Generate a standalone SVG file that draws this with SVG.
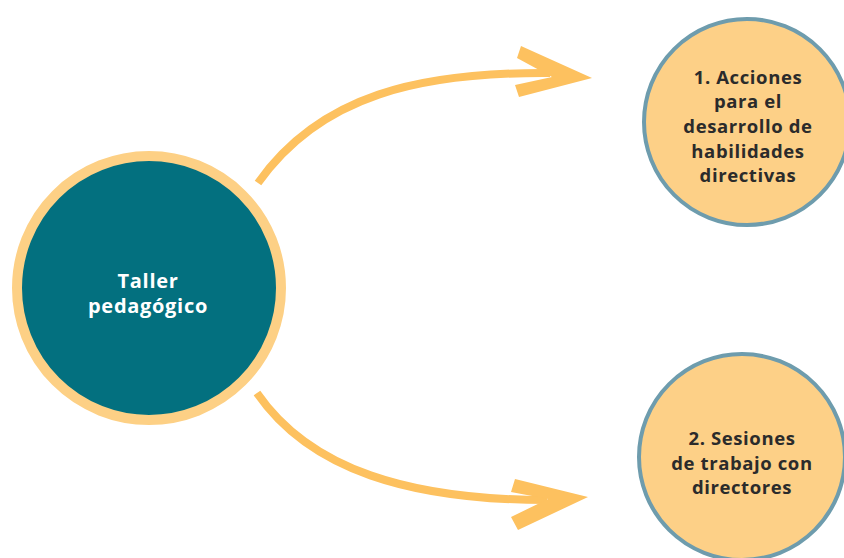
<svg xmlns="http://www.w3.org/2000/svg" width="844" height="558" viewBox="0 0 844 558">
<style>
.t{font-family:"Open Sans","Noto Sans","Liberation Sans",sans-serif;font-weight:700;font-size:18.5px;letter-spacing:0.6px;text-anchor:middle}
.w{fill:#ffffff;font-size:20px;letter-spacing:0.7px}
.d{fill:#2b2b2b}
.sub{fill:#FDD087;stroke:#6E9CAD;stroke-width:4}
.arr{fill:none;stroke:#FDC15F;stroke-width:8}
.head{fill:#FDC15F}
</style>
<rect width="844" height="558" fill="#ffffff"/>
<g id="connectors">
<path class="arr" d="M258,183 C320,95 420,72 550,73"/>
<polygon class="head" points="521,46 592,78 519,97 515,85 552,77 517,58"/>
<path class="arr" d="M257,393 C310,470 410,500 547,500"/>
<polygon class="head" points="515,479 588,497 518,530 511,517 548,499 511,492"/>
</g>
<g id="node-taller">
<circle cx="149" cy="288" r="132" fill="#03707F" stroke="#FDD085" stroke-width="10"/>
<text class="t w" x="148" y="288">Taller</text>
<text class="t w" x="148" y="313">pedagógico</text>
</g>
<g id="node-1">
<circle class="sub" cx="747" cy="122" r="103"/>
<text class="t d" x="748" y="84">1. Acciones</text>
<text class="t d" x="748" y="108">para el</text>
<text class="t d" x="748" y="133">desarrollo de</text>
<text class="t d" x="748" y="158">habilidades</text>
<text class="t d" x="748" y="182">directivas</text>
</g>
<g id="node-2">
<circle class="sub" cx="742" cy="457" r="103"/>
<text class="t d" x="742" y="445">2. Sesiones</text>
<text class="t d" x="742" y="470">de trabajo con</text>
<text class="t d" x="742" y="494">directores</text>
</g>
</svg>
